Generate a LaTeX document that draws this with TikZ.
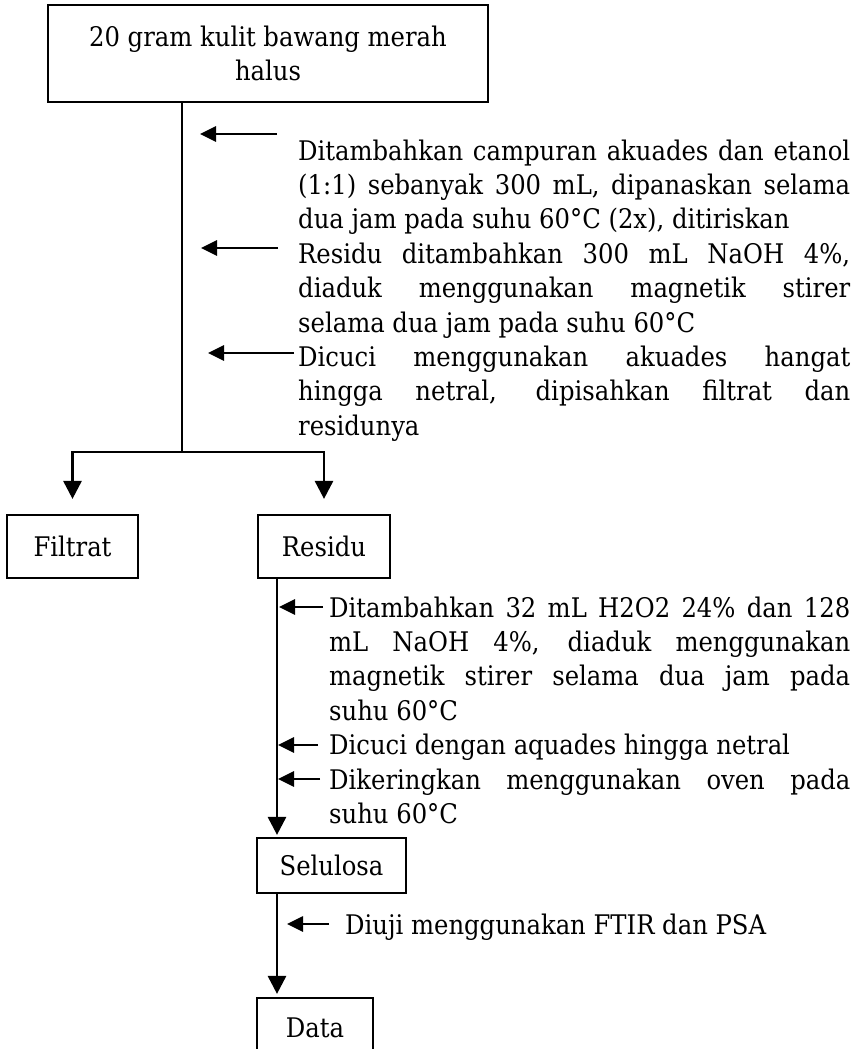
\documentclass[tikz,border=0pt]{standalone}
\usepackage{fontspec}
\setmainfont{DejaVu Serif Condensed}
\usetikzlibrary{arrows.meta}

\begin{document}
\begin{tikzpicture}[x=1pt,y=1pt,
        box/.style = {draw, line width=2.2pt, inner sep=0pt, font=\fontsize{27}{34.4}\selectfont},
        note/.style = {anchor=north west, inner sep=0pt, align=justify, font=\fontsize{27}{34.4}\selectfont},
        flow/.style = {line width=2.8pt},
        tip/.style = {flow, -{Triangle[length=18pt,width=18pt]}},
        side/.style = {line width=2.7pt, -{Triangle[length=16pt,width=15pt]}}]
        \useasboundingbox (0,0) rectangle (856,-1049);
        \clip (0,0) rectangle (856,-1049);

        % Raw material
        \node[box, line width=2.9pt, minimum width=440, minimum height=97, align=center] (raw) at (268,-53.5) {20 gram kulit bawang merah\\halus};

        % Results of the first step
        \node[box, minimum width=131, minimum height=63] (filtrat) at (72.5,-546.5) {Filtrat};
        \node[box, minimum width=132, minimum height=63] (residu) at (324,-546.5) {Residu};

        % Product and test
        \node[box, minimum width=149, minimum height=55] (selulosa) at (331.5,-865.5) {Selulosa};
        \node[box, minimum width=116, minimum height=60] (data) at (315,-1028) {Data};

        % Step texts
        \node[note, text width=552] (t1) at (298,-135.9) {\strut Ditambahkan campuran akuades dan etanol\linebreak (1:1) sebanyak 300 mL, dipanaskan selama\linebreak dua jam pada suhu 60°C (2x), ditiriskan};
        \node[note, text width=552] (t2) at (298,-239.1) {\strut Residu ditambahkan 300 mL NaOH 4\%,\linebreak diaduk menggunakan magnetik stirer\linebreak selama dua jam pada suhu 60°C};
        \node[note, text width=552] (t3) at (298,-342.3) {\strut Dicuci menggunakan akuades hangat\linebreak hingga netral, dipisahkan filtrat dan\linebreak residunya};
        \node[note, text width=521] (t4) at (329,-592.9) {\strut Ditambahkan 32 mL H2O2 24\% dan 128\linebreak mL NaOH 4\%, diaduk menggunakan\linebreak magnetik stirer selama dua jam pada\linebreak suhu 60°C};
        \node[note, text width=521] (t5) at (329,-730.5) {\strut Dicuci dengan aquades hingga netral};
        \node[note, text width=521] (t6) at (329,-764.9) {\strut Dikeringkan menggunakan oven pada\linebreak suhu 60°C};
        \node[note, text width=500] (t7) at (345,-909.9) {\strut Diuji menggunakan FTIR dan PSA};

        % Main line and split
        \coordinate (split) at (182,-452);
        \draw[flow] (raw.south -| split) -- (split);
        \draw[tip, shorten >=15pt] (split) -| (filtrat);
        \draw[tip, shorten >=15pt] (split) -| (residu);

        % Line under the residue
        \coordinate (stem) at (277,0);
        \draw[tip, shorten >=2pt] (residu.south -| stem) -- (selulosa.north -| stem);
        \draw[tip, shorten >=3pt] (selulosa.south -| stem) -- (data.north -| stem);

        % Side arrows
        \foreach \n/\y/\a/\b in {1/134/200/277, 2/248/201/278, 3/353/208/294,
                4/607/279/323, 5/745/278/318, 6/779/278/320, 7/924/287/329} {
            \coordinate (in\n) at (\a,-\y);
            \coordinate (out\n) at (\b,-\y);
            \draw[side] (out\n) -- (in\n);
        }
\end{tikzpicture}
\end{document}
